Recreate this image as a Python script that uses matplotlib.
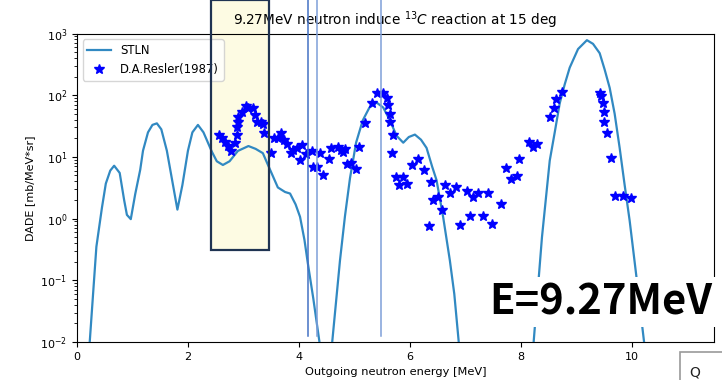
import matplotlib
matplotlib.use("Agg")
import matplotlib.pyplot as plt
from matplotlib.patches import Rectangle

# -----------------------------------
# DATA
# -----------------------------------

# STLN calculation (outgoing energy [MeV], DADE [mb/MeV*sr])
stln_e = [0.10, 0.23, 0.30, 0.35, 0.45, 0.52, 0.60, 0.67, 0.77, 0.85,
          0.90, 0.97, 1.05, 1.14, 1.19, 1.28, 1.36, 1.44, 1.52, 1.62,
          1.70, 1.81, 1.90, 2.00, 2.08, 2.18, 2.28, 2.43, 2.52, 2.63,
          2.75, 2.90, 3.09, 3.22, 3.35, 3.48, 3.62, 3.75, 3.84, 3.94,
          4.02, 4.10, 4.16, 4.26, 4.37, 4.45,
          4.50, 4.60, 4.74, 4.83, 4.92, 5.03, 5.15, 5.27, 5.40, 5.52,
          5.64, 5.76, 5.88, 5.98, 6.09, 6.20, 6.30, 6.40, 6.48, 6.60,
          6.72, 6.80, 6.88, 6.98,
          8.10, 8.23, 8.38, 8.52, 8.61, 8.70, 8.79, 8.88, 9.03, 9.19,
          9.30, 9.42, 9.51, 9.60, 9.69, 9.78, 9.87, 9.96, 10.09, 10.22,
          10.35]
stln_y = [1e-4, 0.01, 0.08, 0.35, 1.5, 3.7, 6.0, 7.2, 5.5, 2.0,
          1.15, 0.98, 2.5, 6.2, 12.6, 25, 33, 35, 28, 12.6,
          5.0, 1.4, 3.5, 12.6, 25, 33, 25, 12.2, 8.5, 7.4,
          8.5, 12.5, 15, 13.5, 11.5, 6.2, 3.2, 2.7, 2.55, 1.7,
          1.07, 0.45, 0.19, 0.05, 0.01, 1e-4,
          1e-4, 0.01, 0.21, 1.1, 4.5, 17, 39, 63, 76, 63,
          39, 22, 17, 21, 23, 19, 14, 7.0, 4.2, 1.05,
          0.21, 0.06, 0.01, 1e-4,
          1e-4, 0.01, 0.5, 8.7, 25, 74, 150, 280, 560, 780,
          680, 480, 260, 132, 50, 14, 3.5, 0.93, 0.1, 0.01,
          1e-4]

# D.A.Resler (1987) measurement
resler_e = [2.56, 2.61, 2.67, 2.72, 2.77, 2.85, 2.88, 2.88, 2.90, 2.90,
            2.97, 3.05, 3.08, 3.17, 3.21, 3.24, 3.32, 3.35, 3.37, 3.50,
            3.55, 3.62, 3.68, 3.73, 3.78, 3.86, 3.89, 3.96, 4.02, 4.05,
            4.13, 4.23, 4.25, 4.32, 4.38, 4.43, 4.54, 4.58, 4.70, 4.76,
            4.79, 4.83, 4.86, 4.94, 5.03, 5.08, 5.19, 5.32, 5.41, 5.51,
            5.59, 5.60, 5.64, 5.64, 5.69, 5.68, 5.75, 5.80, 5.87, 5.95,
            6.04, 6.14, 6.25, 6.38, 6.41, 6.50, 6.58, 6.34, 6.63, 6.72,
            6.83, 6.90, 7.03, 7.08, 7.14, 7.23, 7.32, 7.41, 7.48, 7.64,
            7.73, 7.82, 7.93, 7.96, 8.14, 8.22, 8.29, 8.52, 8.59, 8.63,
            8.74, 9.42, 9.44, 9.48, 9.50, 9.50, 9.55, 9.62, 9.69, 9.84,
            9.98]
resler_y = [22.6, 20.2, 17.4, 15.0, 12.5, 16.8, 22.6, 30.5, 36.8, 44.3,
            53.4, 66.8, 62, 62, 47.8, 36.8, 36.8, 34.1, 24.4, 11.6,
            20.2, 20.2, 24.4, 18.8, 16.2, 11.6, 12.9, 13.9, 8.9, 15.6,
            11.1, 12.5, 6.9, 6.9, 11.6, 5.1, 9.2, 13.9, 14.5, 12.9,
            12.0, 13.4, 7.7, 8.0, 6.4, 14.5, 35.4, 74.8, 108.6, 108.6,
            90, 69.4, 49.6, 36.8, 22.6, 11.6, 4.7, 3.5, 4.7, 3.6,
            7.4, 9.2, 6.1, 3.9, 2.0, 2.2, 1.38, 0.76, 3.5, 2.6,
            3.3, 0.79, 2.8, 1.1, 2.2, 2.6, 1.1, 2.6, 0.82, 1.7,
            6.6, 4.4, 4.9, 9.2, 17.4, 14.5, 16.2, 44.3, 62, 86.8,
            112.7, 108.6, 97, 74.8, 53.4, 36.8, 24.4, 9.6, 2.3, 2.3,
            2.16]

# slide overlays: highlighted energy window and marker lines
window_e = [2.41, 3.46]
window_low = 0.31
marker_e = [4.17, 4.32, 5.48]
marker_colors = ["#4472c4", "#7f9fd9", "#7f9fd9"]

# -----------------------------------
# PLOT
# -----------------------------------

fig = plt.figure(figsize=(7.22, 3.8), dpi=100)
ax = fig.add_axes([0.1066, 0.1, 0.8823, 0.8118])

ax.plot(stln_e, stln_y, color="#3189c2", lw=1.6, label="STLN", zorder=3)
ax.plot(resler_e, resler_y, "*", color="blue", ms=7, ls="none",
        label="D.A.Resler(1987)", zorder=4)

ax.set_yscale("log")
ax.set_xlim(0, 11.48)
ax.set_ylim(1e-2, 1e3)
ax.set_title(r"9.27MeV neutron induce $^{13}C$ reaction at 15 deg", fontsize=9.8)
ax.set_xlabel("Outgoing neutron energy [MeV]", fontsize=8.2)
ax.set_ylabel("DADE [mb/MeV*sr]", fontsize=8)
ax.tick_params(labelsize=8)
ax.legend(loc="upper left", fontsize=8.4)

# yellow highlight box (fill behind, frame on top)
top = 10 ** 3.55
ax.add_patch(Rectangle((window_e[0], window_low), window_e[1] - window_e[0],
                       top - window_low, facecolor="#fdfbe3", edgecolor="none",
                       zorder=0.5, clip_on=False))
ax.add_patch(Rectangle((window_e[0], window_low), window_e[1] - window_e[0],
                       top - window_low, facecolor="none", edgecolor="#1f3352",
                       lw=1.6, zorder=6, clip_on=False))

for xe, c in zip(marker_e, marker_colors):
    ax.axvline(xe, ymin=0.02, ymax=1.12, color=c, lw=1.1, clip_on=False, zorder=5)

fig.text(0.986, 0.205, "E=9.27MeV", ha="right", va="center", fontsize=30,
         fontweight="bold", family=["Noto Sans CJK JP", "DejaVu Sans"],
         bbox=dict(facecolor="white", edgecolor="none", pad=3), zorder=10)

# cropped neighbouring slide box
fig.patches.append(Rectangle((0.942, -0.1), 0.2, 0.175, transform=fig.transFigure,
                             facecolor="white", edgecolor="#9a9a9a", lw=1.2))
fig.text(0.955, 0.002, "Q", fontsize=10, color="#222222", va="bottom")

plt.savefig("out.png", dpi=100)
